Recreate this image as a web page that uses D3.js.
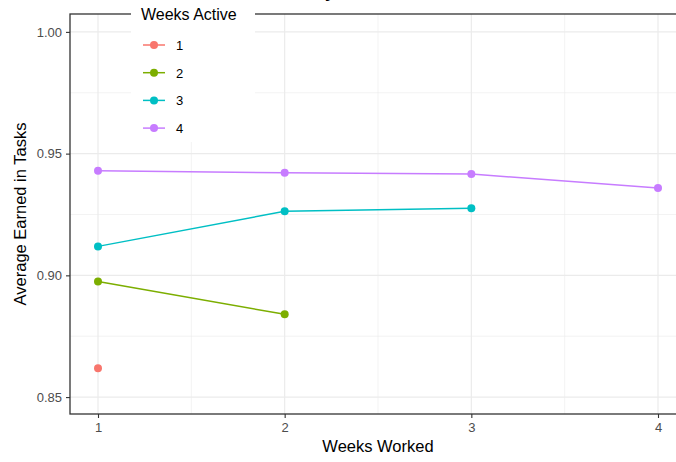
<!DOCTYPE html>
<html>
<head>
<meta charset="utf-8">
<script src="https://cdn.jsdelivr.net/npm/d3@7"></script>
<style>
  body { margin: 0; background: #fff; }
  svg { display: block; font-family: "Liberation Sans", Arial, sans-serif; }
</style>
</head>
<body>
<div id="chart"></div>
<script>
/* data */
var weeksWorked = [1, 2, 3, 4];
var groups = ['1', '2', '3', '4'];
var colors = ['#F8766D', '#7CAE00', '#00BFC4', '#C77CFF'];
var avg1 = [0.8618];
var avg2 = [0.8975, 0.8840];
var avg3 = [0.9119, 0.9263, 0.9276];
var avg4 = [0.9430, 0.9421, 0.9416, 0.9359];
var yTicks = [0.85, 0.90, 0.95, 1.00];
var yMinor = [0.875, 0.925, 0.975];
var xMinor = [1.5, 2.5, 3.5];

var series = [avg1, avg2, avg3, avg4].map(function (vals, i) {
  return { key: groups[i], color: colors[i],
    pts: vals.map(function (v, j) { return { x: weeksWorked[j], y: v }; }) };
});

var W = 676, H = 462;
var m = { top: 14, right: -10, bottom: 48, left: 70 };
var pw = W - m.left - m.right, ph = H - m.top - m.bottom;

var svg = d3.select('#chart').append('svg')
  .attr('width', W).attr('height', H);

var x = d3.scaleLinear().domain([0.85, 4.15]).range([m.left, m.left + pw]);
var y = d3.scaleLinear().domain([0.84305, 1.00735]).range([m.top + ph, m.top]);

var g = svg.append('g');

/* grid */
g.selectAll('.ymin').data(yMinor).enter().append('line')
  .attr('x1', m.left).attr('x2', m.left + pw)
  .attr('y1', function (d) { return y(d); }).attr('y2', function (d) { return y(d); })
  .attr('stroke', '#ebebeb').attr('stroke-width', 0.6);
g.selectAll('.xmin').data(xMinor).enter().append('line')
  .attr('y1', m.top).attr('y2', m.top + ph)
  .attr('x1', function (d) { return x(d); }).attr('x2', function (d) { return x(d); })
  .attr('stroke', '#ebebeb').attr('stroke-width', 0.6);
g.selectAll('.ymaj').data(yTicks).enter().append('line')
  .attr('x1', m.left).attr('x2', m.left + pw)
  .attr('y1', function (d) { return y(d); }).attr('y2', function (d) { return y(d); })
  .attr('stroke', '#ebebeb').attr('stroke-width', 1.2);
g.selectAll('.xmaj').data(weeksWorked).enter().append('line')
  .attr('y1', m.top).attr('y2', m.top + ph)
  .attr('x1', function (d) { return x(d); }).attr('x2', function (d) { return x(d); })
  .attr('stroke', '#ebebeb').attr('stroke-width', 1.2);

/* series */
var line = d3.line().x(function (d) { return x(d.x); }).y(function (d) { return y(d.y); });
series.forEach(function (s) {
  g.append('path').datum(s.pts).attr('d', line)
    .attr('fill', 'none').attr('stroke', s.color).attr('stroke-width', 1.5);
  g.selectAll(null).data(s.pts).enter().append('circle')
    .attr('cx', function (d) { return x(d.x); }).attr('cy', function (d) { return y(d.y); })
    .attr('r', 4).attr('fill', s.color);
});

/* panel border */
svg.append('rect')
  .attr('x', m.left).attr('y', m.top).attr('width', pw).attr('height', ph)
  .attr('fill', 'none').attr('stroke', '#333').attr('stroke-width', 1.3);

/* axes */
var xAxis = svg.append('g').attr('transform', 'translate(0,' + (m.top + ph) + ')')
  .call(d3.axisBottom(x).tickValues(weeksWorked).tickFormat(d3.format('d')).tickSize(4).tickPadding(5));
var yAxis = svg.append('g').attr('transform', 'translate(' + m.left + ',0)')
  .call(d3.axisLeft(y).tickValues(yTicks).tickFormat(d3.format('.2f')).tickSize(4).tickPadding(4));
[xAxis, yAxis].forEach(function (a) {
  a.select('.domain').remove();
  a.selectAll('line').attr('stroke', '#333').attr('stroke-width', 1.1);
  a.selectAll('text').attr('fill', '#4d4d4d').style('font-size', '13px')
    .style('font-family', '"Liberation Sans", Arial, sans-serif');
});

/* axis titles */
svg.append('text').attr('x', m.left + (676 - m.left) / 2 + 5).attr('y', 452)
  .attr('text-anchor', 'middle').style('font-size', '16.5px').attr('fill', '#000')
  .text('Weeks Worked');
svg.append('text')
  .attr('transform', 'translate(26,' + (m.top + ph / 2) + ') rotate(-90)')
  .attr('text-anchor', 'middle').style('font-size', '16.5px').attr('fill', '#000')
  .text('Average Earned in Tasks');

/* title, mostly cut off above the frame */
svg.append('text').attr('x', 335).attr('y', -3)
  .attr('text-anchor', 'end').style('font-size', '18px').style('font-weight', 'bold')
  .text('Average Earned by');

/* legend */
var lg = svg.append('g').attr('transform', 'translate(131,0)');
lg.append('rect').attr('x', 0).attr('y', 0).attr('width', 124).attr('height', 142).attr('fill', '#fff');
lg.append('text').attr('x', 10).attr('y', 20).style('font-size', '16px').attr('fill', '#000')
  .text('Weeks Active');
var items = lg.selectAll('.item').data(series).enter().append('g')
  .attr('transform', function (d, i) { return 'translate(0,' + (45 + i * 27.7) + ')'; });
items.append('line').attr('x1', 12).attr('x2', 34).attr('y1', 0).attr('y2', 0)
  .attr('stroke', function (d) { return d.color; }).attr('stroke-width', 1.5);
items.append('circle').attr('cx', 23).attr('cy', 0).attr('r', 4)
  .attr('fill', function (d) { return d.color; });
items.append('text').attr('x', 45).attr('y', 5).style('font-size', '13px').attr('fill', '#000')
  .text(function (d) { return d.key; });
</script>
</body>
</html>
